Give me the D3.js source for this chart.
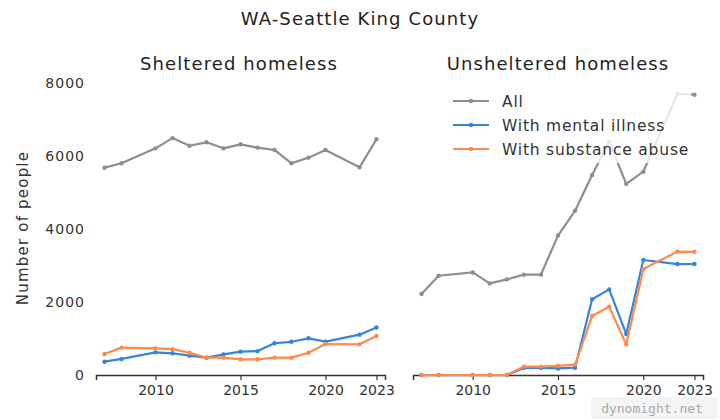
<!DOCTYPE html>
<html><head><meta charset="utf-8">
<script src="https://cdn.jsdelivr.net/npm/d3@7"></script>
<style>body{margin:0;background:#fff}svg{display:block}</style>
</head><body>
<script>
const years = [2007,2008,2010,2011,2012,2013,2014,2015,2016,2017,2018,2019,2020,2022,2023];
const shelteredAll = [5680,5800,6210,6490,6280,6375,6210,6320,6230,6165,5800,5955,6165,5690,6460];
const shelteredMental = [365,440,620,595,530,475,565,640,655,870,910,1005,915,1105,1300];
const shelteredSubstance = [575,750,730,710,610,475,475,430,430,475,475,610,850,840,1070];
const unshelteredAll = [2220,2720,2810,2510,2620,2750,2750,3820,4500,5480,6390,5235,5570,7700,7680];
const unshelteredMental = [0,0,0,0,0,195,195,180,200,2075,2345,1120,3150,3040,3040];
const unshelteredSubstance = [0,0,0,0,0,230,230,250,285,1615,1870,840,2905,3380,3375];
const xTicks = [2010,2015,2020,2023];
const yTicks = [0,2000,4000,6000,8000];
const seriesNames = ["All","With mental illness","With substance abuse"];
const colors = ["#8e8e8e","#3584e0","#ff8a4a"];
const panelTitles = ["Sheltered homeless","Unsheltered homeless"];
const mainTitle = "WA-Seattle King County";

const W=720,H=420;
const FONT = "'DejaVu Sans', sans-serif";
const svg = d3.select("body").append("svg").attr("width",W).attr("height",H);
svg.append("rect").attr("width",W).attr("height",H).attr("fill","#fff");

const y = d3.scaleLinear().domain([0,8000]).range([375,83]);
const panels = [
  {x0:96, x1:385, cx:239, data:[shelteredAll,shelteredMental,shelteredSubstance], title:panelTitles[0], yLabels:true},
  {x0:413, x1:703, cx:558, data:[unshelteredAll,unshelteredMental,unshelteredSubstance], title:panelTitles[1], yLabels:false}
];

svg.append("text").attr("x",360).attr("y",25).attr("text-anchor","middle")
  .attr("font-family",FONT).attr("font-size",18).attr("letter-spacing",1.1).attr("fill","#222").text(mainTitle);

panels.forEach((p,pi)=>{
  const x = d3.scaleLinear().domain([2006.5,2023.5]).range([p.x0,p.x1]);
  const g = svg.append("g");
  const ax = g.append("g").attr("transform","translate(0,375)")
    .call(d3.axisBottom(x).tickValues(xTicks).tickFormat(d3.format("d")).tickSize(5).tickPadding(5));
  ax.select(".domain").attr("stroke","#333").attr("stroke-width",1.5);
  ax.selectAll(".tick line").attr("stroke","#333").attr("stroke-width",1.2);
  ax.selectAll(".tick text").attr("font-family",FONT).attr("font-size",14).attr("fill","#333");
  if(p.yLabels){
    const ay = g.append("g").attr("transform",`translate(${p.x0-7},0)`)
      .call(d3.axisLeft(y).tickValues(yTicks).tickFormat(d3.format("d")).tickSize(0).tickPadding(4));
    ay.select(".domain").remove();
    ay.selectAll(".tick text").attr("font-family",FONT).attr("font-size",14).attr("letter-spacing",1).attr("fill","#333");
    g.append("text").attr("transform",`translate(28,228) rotate(-90)`)
      .attr("text-anchor","middle").attr("font-family",FONT).attr("font-size",15).attr("letter-spacing",1.2).attr("fill","#333")
      .text("Number of people");
  }
  g.append("text").attr("x",p.cx).attr("y",70).attr("text-anchor","middle")
    .attr("font-family",FONT).attr("font-size",18).attr("letter-spacing",1.1).attr("fill","#222").text(p.title);
  const line = d3.line().x((d,i)=>x(years[i])).y(d=>y(d));
  p.data.forEach((s,si)=>{
    g.append("path").datum(s).attr("d",line).attr("fill","none")
      .attr("stroke",colors[si]).attr("stroke-width",2.2).attr("stroke-linejoin","round");
    g.selectAll(null).data(s).enter().append("circle")
      .attr("cx",(d,i)=>x(years[i])).attr("cy",d=>y(d)).attr("r",2.2).attr("fill",colors[si]);
  });
  if(pi===1){
    const lg = svg.append("g");
    lg.append("rect").attr("x",445).attr("y",85).attr("width",246).attr("height",78)
      .attr("fill","#fff").attr("fill-opacity",0.8).attr("rx",3);
    seriesNames.forEach((n,i)=>{
      const yy = 101+i*24;
      lg.append("line").attr("x1",453).attr("x2",489).attr("y1",yy).attr("y2",yy)
        .attr("stroke",colors[i]).attr("stroke-width",2.2);
      lg.append("circle").attr("cx",471).attr("cy",yy).attr("r",2.2).attr("fill",colors[i]);
      lg.append("text").attr("x",502).attr("y",yy+5.5).attr("font-family",FONT).attr("font-size",15.5)
        .attr("letter-spacing",0.8).attr("fill","#333").text(n);
    });
  }
});
svg.append("rect").attr("x",591).attr("y",397).attr("width",126).attr("height",22).attr("fill","#f4f4f4");
svg.append("text").attr("x",652).attr("y",413).attr("text-anchor","middle")
  .attr("font-family","'DejaVu Sans Mono', monospace").attr("font-size",13).attr("fill","#aaa").text("dynomight.net");
</script>
</body></html>
